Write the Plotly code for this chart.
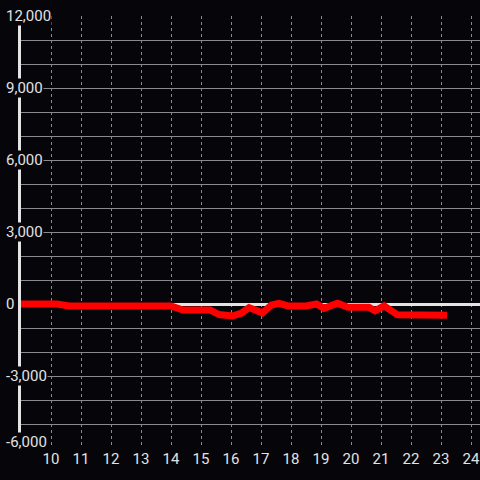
import plotly.graph_objects as go

# data
hours = [9.0, 10.2, 10.6, 14.0, 14.4, 15.3, 15.6, 16.05, 16.35, 16.6, 17.05, 17.35, 17.6,
         17.9, 18.5, 18.85, 19.1, 19.55, 19.9, 20.6, 20.8, 21.1, 21.55, 23.2]
values = [0, 0, -80, -80, -250, -250, -440, -500, -380, -150, -370, -40, 30,
          -80, -80, 0, -180, 30, -140, -140, -280, -80, -450, -470]
x_ticks = list(range(10, 25))
y_ticks = [-6000, -3000, 0, 3000, 6000, 9000, 12000]
y_tick_labels = [f"{v:,}" for v in y_ticks]

BG = "#060509"
GRID = "#8a8a8a"
TXT = "#e2e2e2"
FONT = "Roboto"

fig = go.Figure()
fig.add_trace(go.Scatter(x=hours, y=values, mode="lines",
                         line=dict(color="#ff0000", width=7), hoverinfo="skip"))

for v, lab in zip(y_ticks, y_tick_labels):
    fig.add_annotation(x=0, xref="paper", xanchor="left", xshift=-16,
                       y=v, yref="y", yanchor="middle",
                       yshift=6 if v == min(y_ticks) else 0,
                       text=lab, showarrow=False, bgcolor=BG, borderpad=0,
                       font=dict(family=FONT, size=15, color=TXT))

fig.update_layout(
    width=480, height=480,
    margin=dict(l=21, r=0, t=16, b=32),
    paper_bgcolor=BG, plot_bgcolor=BG,
    showlegend=False,
    font=dict(family=FONT, size=15, color=TXT),
    xaxis=dict(range=[9, 24.3], tickvals=x_ticks, showgrid=True, gridcolor=GRID,
               gridwidth=1, griddash="3px,3px", zeroline=False, showline=False,
               automargin=False,
               ticks="", tickfont=dict(family=FONT, size=15, color=TXT)),
    yaxis=dict(range=[-6000, 12000], tickvals=y_ticks, showticklabels=False,
               automargin=False,
               showgrid=True, gridcolor=GRID, gridwidth=1,
               minor=dict(dtick=1000, tick0=0, showgrid=True, gridcolor=GRID, gridwidth=1),
               zeroline=True, zerolinecolor="#e4e4e4", zerolinewidth=3,
               showline=True, linecolor="#e4e4e4", linewidth=3, ticks=""),
)

fig.write_html("out.html", config={"displayModeBar": False},
               post_script="document.body.style.margin='0';document.body.style.background='%s';" % BG)
